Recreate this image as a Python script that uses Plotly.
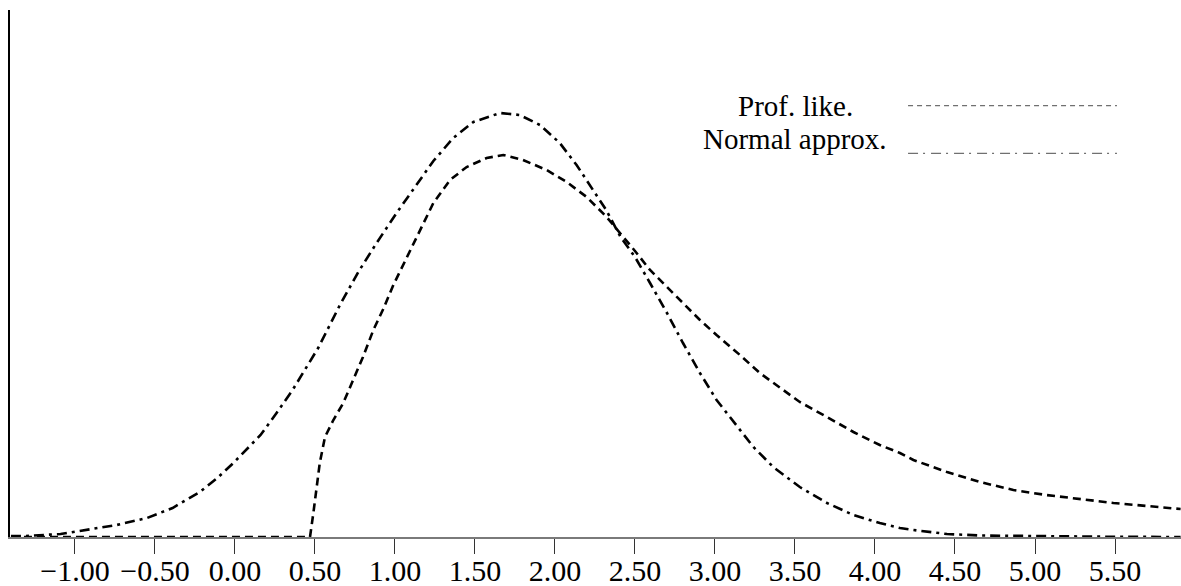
import plotly.graph_objects as go

# ---- data ----
norm_x = [-1.40, -1.31, -1.09, -0.93, -0.74, -0.55, -0.39, -0.22, -0.11, -0.01,
          0.16, 0.26, 0.36, 0.52, 0.656, 0.771, 0.885, 1.01, 1.125, 1.24,
          1.364, 1.49, 1.656, 1.78, 1.906, 2.03, 2.135, 2.24, 2.32, 2.41,
          2.50, 2.594, 2.70, 2.80, 2.906, 3.01, 3.115, 3.24, 3.364, 3.53,
          3.70, 3.865, 4.03, 4.156, 4.24, 4.45, 4.656, 5.07, 5.50, 5.91]
norm_y = [1, 1, 3, 7, 12, 19, 29, 45, 59, 74,
          102, 124, 147, 189, 232, 265, 294, 324, 350, 376,
          399, 415, 424, 422, 412, 394, 372, 347, 327, 300,
          280, 254, 224, 194, 164, 137, 115, 90, 70, 50,
          34, 22, 14, 9, 7, 3, 1.5, 0.5, 0.2, 0]

prof_x = [-1.40, 0.469, 0.49, 0.52, 0.53, 0.5625, 0.583, 0.615, 0.677, 0.74,
          0.80, 0.865, 0.927, 0.99, 1.05, 1.156, 1.24, 1.344, 1.448, 1.573,
          1.677, 1.80, 1.948, 2.073, 2.198, 2.323, 2.43, 2.50, 2.594, 2.70,
          2.80, 2.906, 3.01, 3.156, 3.28, 3.406, 3.53, 3.70, 3.865, 4.03,
          4.156, 4.24, 4.45, 4.656, 4.865, 5.07, 5.28, 5.49, 5.70, 5.91]
prof_y = [0, 0, 24, 64, 74, 100, 107, 117, 134, 157,
          180, 207, 228, 252, 272, 307, 334, 357, 370, 379,
          382, 377, 367, 355, 340, 320, 300, 286, 267, 250,
          234, 217, 202, 182, 164, 149, 135, 120, 105, 92,
          84, 77, 65, 55, 47, 42, 38, 34, 31, 28]

tick_vals = [-1.0, -0.5, 0.0, 0.5, 1.0, 1.5, 2.0, 2.5, 3.0, 3.5, 4.0, 4.5, 5.0, 5.5]
tick_text = ["\u22121.00", "\u22120.50", "0.00", "0.50", "1.00", "1.50", "2.00",
             "2.50", "3.00", "3.50", "4.00", "4.50", "5.00", "5.50"]

legend_labels = ["Prof. like.", "Normal approx."]

FONT = "Liberation Serif"

fig = go.Figure()
fig.add_trace(go.Scatter(x=prof_x, y=prof_y, mode="lines", name=legend_labels[0],
                         line=dict(color="black", width=2.6, dash="8px,5px"),
                         showlegend=False))
fig.add_trace(go.Scatter(x=norm_x, y=norm_y, mode="lines", name=legend_labels[1],
                         line=dict(color="black", width=2.6, dash="10px,5px,3px,5px"),
                         showlegend=False))

# manual legend
fig.add_annotation(x=0.6704, y=0.818, xref="paper", yref="paper", text=legend_labels[0],
                   showarrow=False, xanchor="center", yanchor="middle",
                   font=dict(family=FONT, size=29, color="black"))
fig.add_annotation(x=0.6704, y=0.756, xref="paper", yref="paper", text=legend_labels[1],
                   showarrow=False, xanchor="center", yanchor="middle",
                   font=dict(family=FONT, size=29, color="black"))
fig.add_shape(type="line", xref="paper", yref="paper", x0=0.7669, x1=0.9453,
              y0=0.8184, y1=0.8184, line=dict(color="#707070", width=1.3, dash="5px,4px"))
fig.add_shape(type="line", xref="paper", yref="paper", x0=0.7669, x1=0.9453,
              y0=0.7281, y1=0.7281, line=dict(color="#707070", width=1.3, dash="10px,5px,2px,6px"))

fig.update_layout(
    width=1181, height=586,
    margin=dict(l=10, r=0, t=10, b=49),
    paper_bgcolor="white", plot_bgcolor="white",
    font=dict(family=FONT, size=30, color="black"),
    showlegend=False,
)
fig.update_xaxes(
    range=[-1.406, 5.9125], showgrid=False, zeroline=False,
    showline=True, linecolor="#7a7a7a", linewidth=2,
    tickmode="array", tickvals=tick_vals, ticktext=tick_text,
    ticks="outside", ticklen=15, tickwidth=1.3, tickcolor="#333333",
    tickfont=dict(family=FONT, size=30, color="black"),
    ticklabelstandoff=-9,
    automargin=False,
)
fig.update_yaxes(
    range=[0, 527], showgrid=False, zeroline=False,
    showline=True, linecolor="black", linewidth=2,
    showticklabels=False, ticks="", automargin=False,
)

fig.write_html("out.html", config={"displayModeBar": False},
               post_script="document.body.style.margin='0';document.body.style.overflow='hidden';")
